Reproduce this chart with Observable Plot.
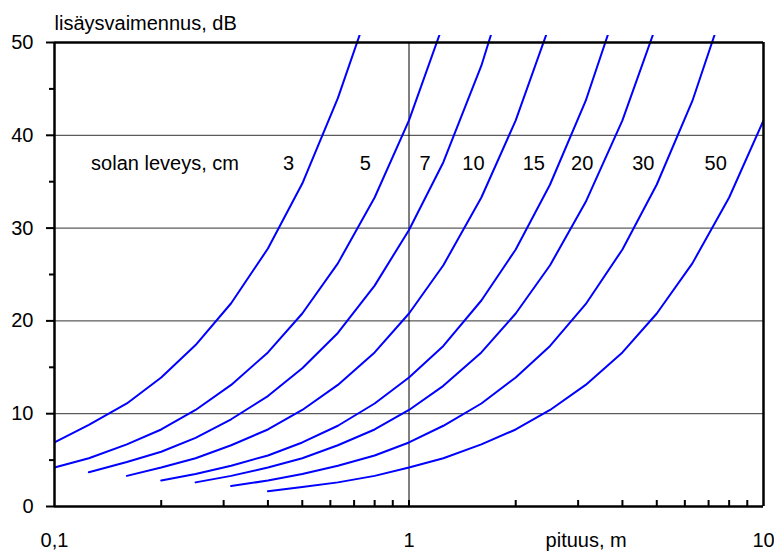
<!DOCTYPE html>
<html>
<head>
<meta charset="utf-8">
<script src="https://cdn.jsdelivr.net/npm/d3@7"></script>
<script src="https://cdn.jsdelivr.net/npm/@observablehq/plot@0.6"></script>
<style>
  body { margin: 0; background: #fff; }
  #chart svg { display: block; }
</style>
</head>
<body>
<div id="chart"></div>
<script>
// Duct length (m), one-third-octave steps, shared by every curve
const lengths = [0.1, 0.125, 0.16, 0.2, 0.25, 0.315, 0.4, 0.5, 0.63, 0.8, 1,
                 1.25, 1.6, 2, 2.5, 3.15, 4, 5, 6.3, 8, 10];

// Cell width (cm) of each curve
const widths = [3, 5, 7, 10, 15, 20, 30, 50];

// Insertion loss (dB) per width, aligned with `lengths` (null = not drawn)
const att3  = [6.9, 8.8, 11.1, 13.9, 17.4, 21.9, 27.8, 34.8, 44.0, 55.5];
const att5  = [4.2, 5.2, 6.7, 8.3, 10.4, 13.1, 16.6, 20.8, 26.2, 33.3, 41.6, 52.0];
const att7  = [null, 3.7, 4.8, 5.9, 7.4, 9.4, 11.9, 14.9, 18.7, 23.8, 29.8, 37.1, 47.5, 59.4];
const att10 = [null, null, 3.3, 4.2, 5.2, 6.6, 8.3, 10.4, 13.1, 16.6, 20.8, 26.0, 33.3, 41.6, 52.0];
const att15 = [null, null, null, 2.8, 3.5, 4.4, 5.5, 6.9, 8.7, 11.1, 13.9, 17.3, 22.2, 27.7, 34.7, 43.7, 55.5];
const att20 = [null, null, null, null, 2.6, 3.3, 4.2, 5.2, 6.6, 8.3, 10.4, 13.0, 16.6, 20.8, 26.0, 32.8, 41.6, 52.0];
const att30 = [null, null, null, null, null, 2.2, 2.8, 3.5, 4.4, 5.5, 6.9, 8.7, 11.1, 13.9, 17.3, 21.8, 27.7, 34.7, 43.7, 55.5];
const att50 = [null, null, null, null, null, null, 1.65, 2.1, 2.6, 3.3, 4.2, 5.2, 6.7, 8.3, 10.4, 13.1, 16.6, 20.8, 26.2, 33.3, 41.6];
const series = [att3, att5, att7, att10, att15, att20, att30, att50];

// Where each width label sits along the length axis
const labelX = [0.457, 0.753, 1.11, 1.52, 2.25, 3.08, 4.58, 7.33];
const labelY = 37;
const legendTitle = "solan leveys, cm";
const legendTitleX = 0.205;

// Axis ticks and labels
const yTicks = [0, 10, 20, 30, 40, 50];
const yMinor = [5, 15, 25, 35, 45];
const yGrid = [10, 20, 30, 40];
const xTicks = [0.1, 1, 10];
const xTickLabels = ["0,1", "1", "10"];
const xMinor = [0.2, 0.3, 0.4, 0.5, 0.6, 0.7, 0.8, 0.9, 1, 2, 3, 4, 5, 6, 7, 8, 9];
const yTitle = "lisäysvaimennus, dB";
const xTitle = "pituus, m";
const xTitleX = 3.16;

const rows = [];
series.forEach((vals, s) => {
  vals.forEach((v, i) => {
    if (v != null) rows.push({width: widths[s], length: lengths[i], att: v});
  });
});

const font = "'Liberation Sans', Arial, Helvetica, sans-serif";

const svg = Plot.plot({
  width: 774,
  height: 552,
  marginLeft: 54,
  marginRight: 11,
  marginTop: 42,
  marginBottom: 46,
  style: {fontFamily: font, fontSize: "20px", background: "#fff", color: "#000", overflow: "visible"},
  x: {type: "log", domain: [0.1, 10]},
  y: {domain: [0, 50]},
  marks: [
    Plot.ruleY(yGrid, {stroke: "#333", strokeWidth: 1}),
    Plot.ruleX([1], {stroke: "#000", strokeWidth: 1}),
    Plot.line(rows, {x: "length", y: "att", z: "width", stroke: "#0000ff", strokeWidth: 2, clip: true}),
    // plot frame
    Plot.ruleY([50], {stroke: "#000", strokeWidth: 2.5}),
    Plot.ruleX([10], {stroke: "#000", strokeWidth: 2.5}),
    Plot.ruleX([0.1], {stroke: "#000", strokeWidth: 2.5}),
    Plot.ruleY([0], {stroke: "#000", strokeWidth: 2.5}),
    // axes
    Plot.axisY(yTicks, {tickSize: 8, tickPadding: 13, strokeWidth: 2, fontSize: 20, label: null}),
    Plot.axisY(yMinor, {tickSize: 5, strokeWidth: 2, tickFormat: () => "", label: null}),
    Plot.axisX(xMinor, {tickSize: -6, strokeWidth: 2, tickFormat: () => "", label: null}),
    Plot.axisX(xTicks, {tickSize: 0, tickPadding: 26, fontSize: 20, label: null,
      tickFormat: (d) => xTickLabels[xTicks.indexOf(d)]}),
    // titles
    Plot.text([yTitle], {frameAnchor: "top-left", textAnchor: "start", lineAnchor: "bottom",
      dy: -13, fontSize: 20, fill: "#000"}),
    Plot.text([xTitle], {x: () => xTitleX, frameAnchor: "bottom", lineAnchor: "bottom",
      dy: 40, fontSize: 20, fill: "#000"}),
    // width labels
    Plot.text([legendTitle], {x: () => legendTitleX, y: () => labelY, fontSize: 20, fill: "#000"}),
    Plot.text(widths, {x: (d, i) => labelX[i], y: () => labelY, text: (d) => String(d),
      fontSize: 20, fill: "#000"})
  ]
});

// let the curves run a little past the top edge of the frame
svg.querySelectorAll("clipPath rect").forEach((r) => {
  const y = +r.getAttribute("y");
  const h = +r.getAttribute("height");
  r.setAttribute("y", y - 7);
  r.setAttribute("height", h + 7);
});

document.getElementById("chart").appendChild(svg);
</script>
</body>
</html>
